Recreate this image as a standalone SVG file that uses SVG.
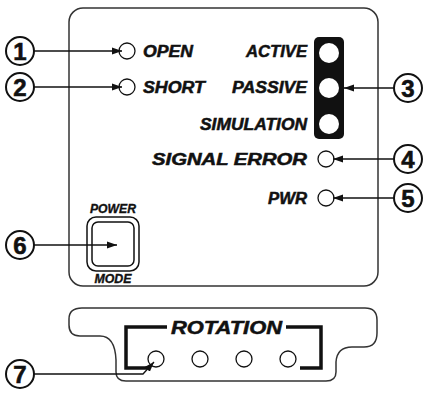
<svg xmlns="http://www.w3.org/2000/svg" width="428" height="393" viewBox="0 0 428 393">
<defs>
<marker id="ah" markerUnits="userSpaceOnUse" markerWidth="11" markerHeight="8" refX="10" refY="4" orient="auto">
<path d="M0,0.5 L10,4 L0,7.5 z" fill="#111"/>
</marker>
<style>
.panel{fill:#fff;stroke:#333;stroke-width:1.5}
.led{fill:#fff;stroke:#111;stroke-width:1.3}
.call{fill:#fff;stroke:#111;stroke-width:2}
.num{font-family:"Liberation Sans",Arial,sans-serif;font-weight:bold;font-size:24px;fill:#111;stroke:#111;stroke-width:0.6;text-anchor:middle}
.lbl{font-family:"Liberation Sans",Arial,sans-serif;font-weight:bold;font-style:italic;font-size:16px;fill:#111;stroke:#111;stroke-width:0.5}
.sm{font-size:12px;text-anchor:middle;stroke-width:0.35}
.big{font-size:18px}
.conn{fill:none;stroke:#111;stroke-width:1.3;marker-end:url(#ah)}
.brk{fill:none;stroke:#111;stroke-width:3.5}
</style>
</defs>
<g id="main-panel">
<rect class="panel" x="69" y="8" width="309" height="278" rx="14"/>
</g>
<g id="open">
<circle class="led" cx="127" cy="51" r="8"/>
<text class="lbl" x="143" y="57" textLength="50" lengthAdjust="spacingAndGlyphs">OPEN</text>
</g>
<g id="short">
<circle class="led" cx="127" cy="87" r="8"/>
<text class="lbl" x="143" y="93" textLength="62" lengthAdjust="spacingAndGlyphs">SHORT</text>
</g>
<g id="mode-bar">
<rect x="314" y="37" width="30" height="102" rx="5" fill="#111"/>
<circle cx="329" cy="53" r="10" fill="#fff"/>
<circle cx="329" cy="88" r="10" fill="#fff"/>
<circle cx="329" cy="124" r="10" fill="#fff"/>
<text class="lbl" x="307" y="57" text-anchor="end" textLength="61" lengthAdjust="spacingAndGlyphs">ACTIVE</text>
<text class="lbl" x="307" y="93" text-anchor="end" textLength="75" lengthAdjust="spacingAndGlyphs">PASSIVE</text>
<text class="lbl" x="307" y="130" text-anchor="end" textLength="107" lengthAdjust="spacingAndGlyphs">SIMULATION</text>
</g>
<g id="signal-error">
<circle class="led" cx="326" cy="159" r="8"/>
<text class="lbl" x="307" y="165" text-anchor="end" textLength="155" lengthAdjust="spacingAndGlyphs">SIGNAL ERROR</text>
</g>
<g id="pwr">
<circle class="led" cx="326" cy="198" r="8"/>
<text class="lbl" x="307" y="204" text-anchor="end" textLength="39" lengthAdjust="spacingAndGlyphs">PWR</text>
</g>
<g id="power-button">
<rect x="87" y="217" width="52" height="54" rx="9" fill="#fff" stroke="#111" stroke-width="1.5"/>
<rect x="92" y="222" width="42" height="44" rx="6" fill="#fff" stroke="#111" stroke-width="1.5"/>
<text class="lbl sm" x="113" y="213" textLength="46" lengthAdjust="spacingAndGlyphs">POWER</text>
<text class="lbl sm" x="113" y="283" textLength="37" lengthAdjust="spacingAndGlyphs">MODE</text>
</g>
<g id="rotation-panel">
<path class="panel" d="M82,308 H365 Q377,308 377,320 V333 Q377,347 364,347 H352 Q337,347 336,362 V372 Q336,381 326,381 H126 Q116,381 116,372 V360 Q115,336 100,336 H80 Q69,336 69,325 V319 Q69,308 82,308 Z"/>
<path class="brk" d="M167,327 H126 V368 H147"/>
<path class="brk" d="M286,327 H321 V368 H300"/>
<text class="lbl big" x="171" y="334" textLength="111" lengthAdjust="spacingAndGlyphs">ROTATION</text>
<circle class="led" cx="156" cy="359" r="8"/>
<circle class="led" cx="200" cy="359" r="8"/>
<circle class="led" cx="244" cy="359" r="8"/>
<circle class="led" cx="288" cy="359" r="8"/>
</g>
<g id="connectors">
<path class="conn" d="M34,51 H122"/>
<path class="conn" d="M34,87 H122"/>
<path class="conn" d="M394,88 H344"/>
<path class="conn" d="M394,159 H333"/>
<path class="conn" d="M394,198 H333"/>
<path class="conn" d="M34,245 H117"/>
<path class="conn" d="M34,374 H143 L154,362"/>
</g>
<g id="callout-1"><circle class="call" cx="20" cy="51" r="14"/><text class="num" x="20" y="59.5">1</text></g>
<g id="callout-2"><circle class="call" cx="20" cy="87" r="14"/><text class="num" x="20" y="95.5">2</text></g>
<g id="callout-3"><circle class="call" cx="408" cy="88" r="14"/><text class="num" x="408" y="96.5">3</text></g>
<g id="callout-4"><circle class="call" cx="408" cy="159" r="14"/><text class="num" x="408" y="167.5">4</text></g>
<g id="callout-5"><circle class="call" cx="408" cy="198" r="14"/><text class="num" x="408" y="206.5">5</text></g>
<g id="callout-6"><circle class="call" cx="20" cy="245" r="14"/><text class="num" x="20" y="253.5">6</text></g>
<g id="callout-7"><circle class="call" cx="20" cy="374" r="14"/><text class="num" x="20" y="382.5">7</text></g>
</svg>
